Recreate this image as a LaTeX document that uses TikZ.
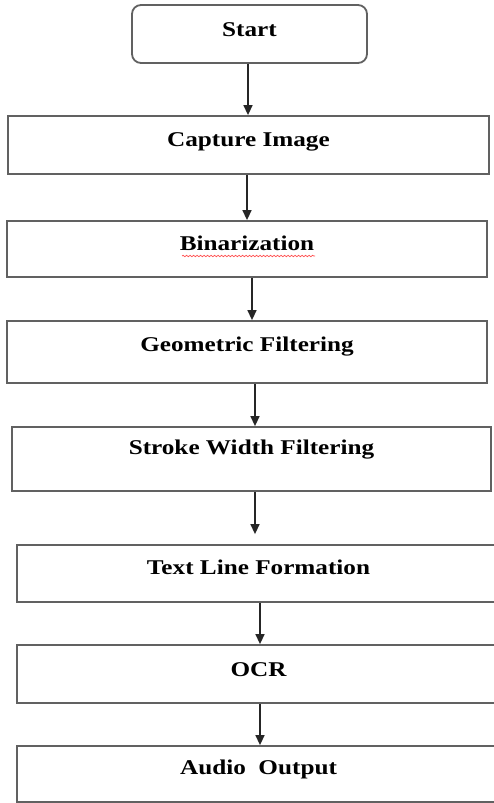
\documentclass[tikz,border=0pt]{standalone}
\usepackage{fontspec}
\setmainfont{Liberation Serif}[FakeStretch=1.2]
\usetikzlibrary{arrows.meta,decorations.pathmorphing}
\begin{document}
\begin{tikzpicture}[x=1pt,y=-1pt,
  box/.style={draw=black!62, line width=1.8pt, rectangle, inner sep=0pt,
    font=\fontsize{21}{25}\selectfont\bfseries, text=black, text height=14pt},
  startbox/.style={box, rounded corners=9pt},
  arr/.style={draw=black!85, line width=1.4pt, -{Triangle[length=10pt,width=9pt]}},
  squiggle/.style={draw=red!70, line width=0.7pt, decorate,
    decoration={snake, amplitude=0.7pt, segment length=3.5pt}}]
\useasboundingbox (0,0) rectangle (493,803);
\fill[white] (0,0) rectangle (493,803);

\node[startbox, minimum width=235pt, minimum height=58pt, text depth=9pt] (start) at (249.5,34) {Start};
\node[box, minimum width=481pt, minimum height=58pt, text depth=12pt] (cap) at (248.5,145) {Capture Image};
\node[box, minimum width=480pt, minimum height=56pt, text depth=12pt] (bin) at (247,249) {Binarization};
\node[box, minimum width=480pt, minimum height=62pt, text depth=15pt] (geo) at (247,352) {Geometric Filtering};
\node[box, minimum width=479pt, minimum height=64pt, text depth=24pt] (swf) at (251.5,459) {Stroke Width Filtering};
\node[box, minimum width=483pt, minimum height=57pt, text depth=12pt] (tlf) at (258.5,573.5) {Text Line Formation};
\node[box, minimum width=483pt, minimum height=58pt, text depth=10pt] (ocr) at (258.5,674) {OCR};
\node[box, minimum width=483pt, minimum height=56pt, text depth=13pt] (aud) at (258.5,774) {Audio\ \ Output};

\draw[squiggle] ([xshift=-65pt,yshift=-7pt]bin.center) -- ([xshift=68pt,yshift=-7pt]bin.center);

\draw[arr] ([xshift=-1.5pt]start.south) -- ([xshift=-0.5pt]cap.north);
\draw[arr] ([xshift=-1.5pt]cap.south) -- (bin.north);
\draw[arr] ([xshift=5pt]bin.south) -- ([xshift=5pt]geo.north);
\draw[arr] ([xshift=8pt]geo.south) -- ([xshift=3.5pt]swf.north);
\draw[arr, shorten >=10pt] ([xshift=3.5pt]swf.south) -- ([xshift=-3.5pt]tlf.north);
\draw[arr] ([xshift=1.5pt]tlf.south) -- ([xshift=1.5pt]ocr.north);
\draw[arr] ([xshift=1.5pt]ocr.south) -- ([xshift=1.5pt]aud.north);
\end{tikzpicture}
\end{document}
